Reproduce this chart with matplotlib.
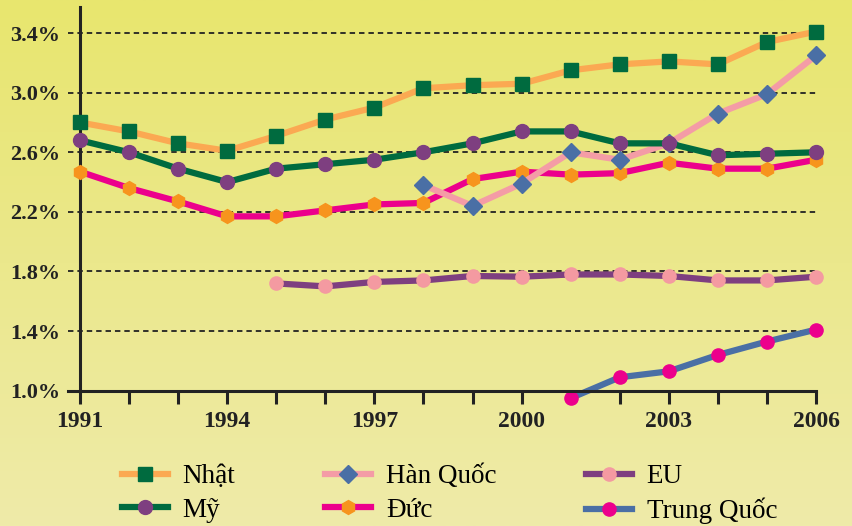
import numpy as np
import matplotlib as mpl
import matplotlib.pyplot as plt

mpl.rcParams.update({
    "font.family": ["Liberation Serif", "DejaVu Serif"],
})

# Data (R&D spending as % of GDP).
YEARS = list(range(1991, 2007))
NHAT = [2.80, 2.74, 2.66, 2.61, 2.71, 2.82, 2.90, 3.03, 3.05, 3.06,
        3.15, 3.19, 3.21, 3.19, 3.34, 3.41]
MY = [2.68, 2.60, 2.49, 2.40, 2.49, 2.52, 2.55, 2.60, 2.66, 2.74,
      2.74, 2.66, 2.66, 2.58, 2.59, 2.60]
HAN_QUOC_YEARS = list(range(1998, 2007))
HAN_QUOC = [2.38, 2.24, 2.39, 2.60, 2.55, 2.66, 2.86, 2.99, 3.25]
DUC = [2.47, 2.36, 2.27, 2.17, 2.17, 2.21, 2.25, 2.26, 2.42, 2.47,
       2.45, 2.46, 2.53, 2.49, 2.49, 2.55]
EU_YEARS = list(range(1995, 2007))
EU = [1.72, 1.70, 1.73, 1.74, 1.77, 1.765, 1.78, 1.78, 1.77, 1.74,
      1.74, 1.765]
TQ_YEARS = list(range(2001, 2007))
TRUNG_QUOC = [0.95, 1.09, 1.13, 1.24, 1.33, 1.41]

Y_TICKS = [1.0, 1.4, 1.8, 2.2, 2.6, 3.0, 3.4]
X_TICKS = [1991, 1994, 1997, 2000, 2003, 2006]

W, H = 853, 526
fig = plt.figure(figsize=(W / 100, H / 100), dpi=100)

# pale yellow vertical gradient background
bg = fig.add_axes([0, 0, 1, 1], zorder=-10)
grad = np.linspace(0, 1, 256)[:, None]
cmap = mpl.colors.LinearSegmentedColormap.from_list(
    "bg", ["#E8E66E", "#EBE88C", "#EFEBA9"])
bg.imshow(grad, aspect="auto", cmap=cmap, extent=[0, 1, 0, 1])
bg.axis("off")

ax = fig.add_axes([80 / W, 1 - 390.7 / H, (816 - 80) / W, (390.7 - 7) / H])
ax.patch.set_alpha(0)
ax.set_xlim(1991, 2006)
ax.set_ylim(1.0, 3.575)

# dashed guide lines (extend a bit left of the axis)
for v in Y_TICKS[1:]:
    ax.plot([1990.75, 2006], [v, v], ls=(0, (3, 2.2)), color="#222222",
            lw=1.3, clip_on=False, zorder=1)
ax.plot([1990.75, 1991], [1.0, 1.0], color="#222222", lw=2.2,
        clip_on=False, zorder=1)

LW = 4.5
series = [
    ("Nhật", YEARS, NHAT, "#FBA952", "s", "#006B3F", 10),
    ("Mỹ", YEARS, MY, "#006B3F", "o", "#7E3F80", 10),
    ("Hàn Quốc", HAN_QUOC_YEARS, HAN_QUOC, "#F49CA6", "D", "#4A6FA5", 9),
    ("Đức", YEARS, DUC, "#EC008C", "h", "#F7941D", 10),
    ("EU", EU_YEARS, EU, "#7E3F80", "o", "#F49AA1", 9.5),
    ("Trung Quốc", TQ_YEARS, TRUNG_QUOC, "#4A6FA5", "o", "#EC008C", 9.5),
]
z_order = {"EU": 2, "Trung Quốc": 2, "Đức": 3, "Hàn Quốc": 4, "Mỹ": 5, "Nhật": 6}
handles = []
for label, xs, ys, lc, mk, mc, ms in series:
    h, = ax.plot(xs, ys, color=lc, lw=LW, marker=mk, ms=ms,
                 markerfacecolor=mc, markeredgecolor=mc, label=label,
                 clip_on=False, zorder=z_order[label])
    handles.append(h)

for side in ("top", "right"):
    ax.spines[side].set_visible(False)
for side in ("left", "bottom"):
    ax.spines[side].set_linewidth(2.2)
    ax.spines[side].set_color("#222222")

ax.set_yticks(Y_TICKS)
ax.set_yticklabels([f"{v:.1f}%" for v in Y_TICKS])
ax.set_xticks(X_TICKS)
ax.set_xticks(YEARS, minor=True)
ax.tick_params(axis="y", length=0, pad=14, labelsize=16, labelcolor="#222222")
ax.tick_params(axis="x", which="both", direction="out", length=9.5, width=2.2,
               color="#222222", labelsize=17, labelcolor="#222222", pad=5)
for t in ax.get_xticklabels() + ax.get_yticklabels():
    t.set_fontweight("bold")

fig.legend(handles=handles, ncol=3, loc="lower left",
           bbox_to_anchor=(111 / W, -9 / H), frameon=False,
           fontsize=19.5, handlelength=1.7, handletextpad=0.55,
           columnspacing=3.3, labelspacing=0.32, borderaxespad=0)

fig.savefig("out.png", dpi=100)
